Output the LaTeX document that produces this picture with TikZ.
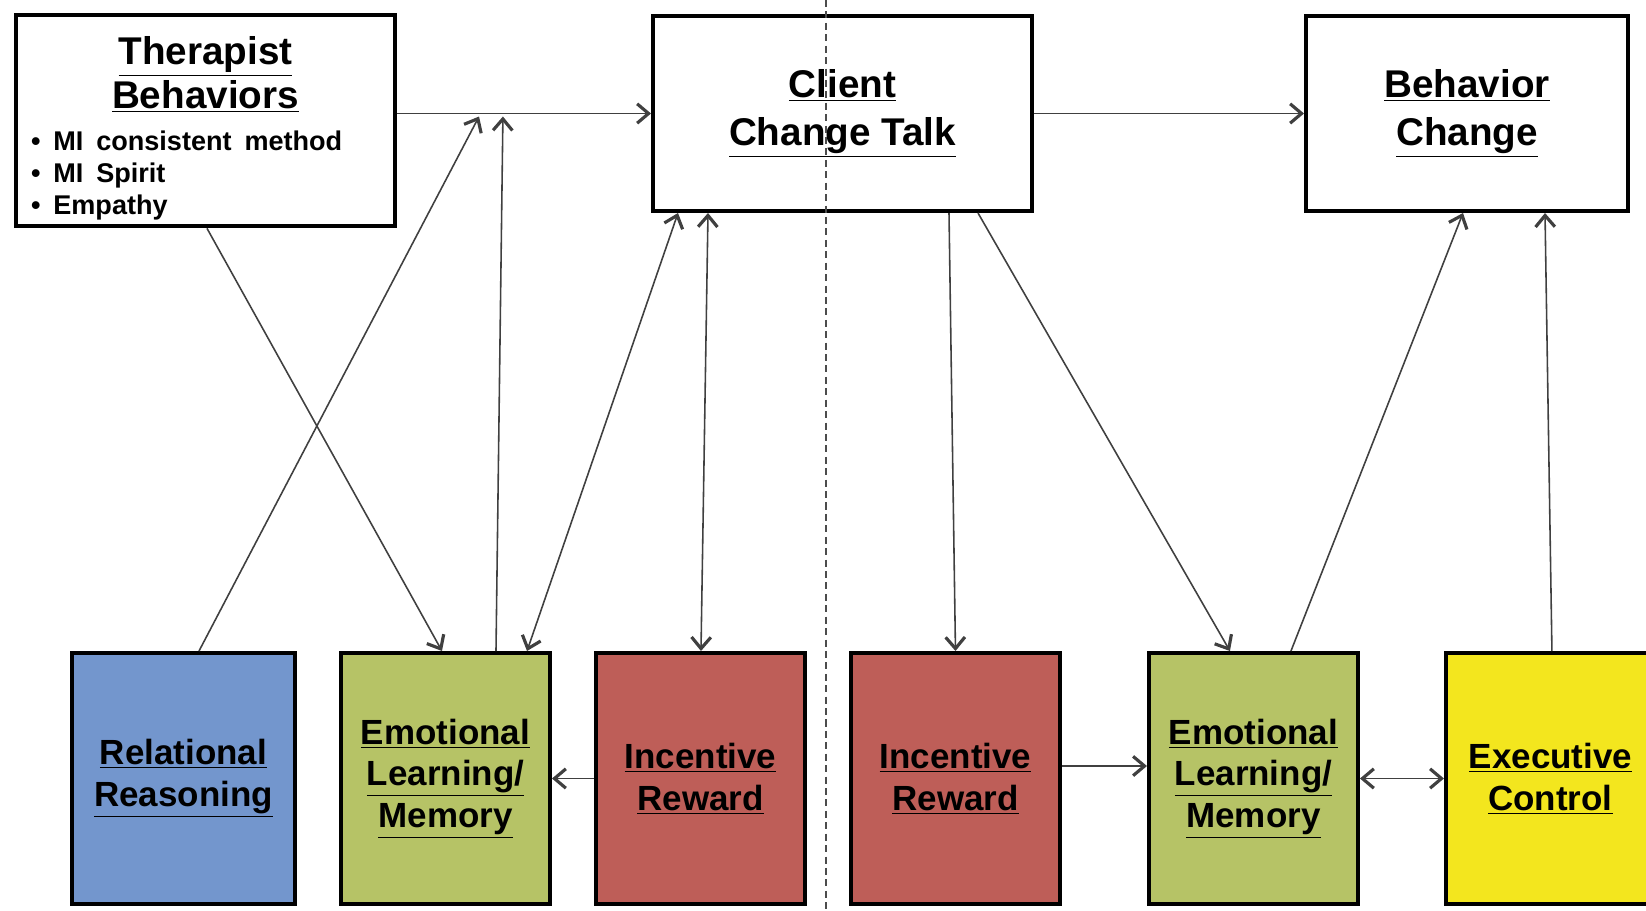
\documentclass[tikz,border=0pt]{standalone}
\usepackage{fontspec}
\setmainfont{Liberation Sans}
\usepackage{xcolor}
\definecolor{colorRelational}{RGB}{115,150,205}
\definecolor{colorEmotional}{RGB}{182,195,102}
\definecolor{colorIncentive}{RGB}{190,94,88}
\definecolor{colorExecutive}{RGB}{243,230,30}
\colorlet{colorLink}{black!75}
\usepackage{tikz}
\usetikzlibrary{arrows.meta, calc, positioning}
\newcommand{\undl}[1]{\underline{#1}}
\newcommand{\titlefont}{\fontsize{22pt}{25pt}\selectfont\bfseries}
\newcommand{\listfont}{\fontsize{15.4pt}{18.2pt}\selectfont\bfseries}
\tikzset{
  topbox/.style={draw, line width=2.3pt, fill=white, minimum height=3.9cm, font=\fontsize{22pt}{27pt}\selectfont\bfseries},
  lowbox/.style={draw, line width=2.3pt, minimum width=4.18cm, minimum height=5.02cm, align=center, font=\fontsize{19.9pt}{23.7pt}\selectfont\bfseries},
  link/.style={colorLink, line width=0.9pt},
  divider/.style={black!70, line width=0.8pt, dash pattern=on 4pt off 2.5pt}
}

\begin{document}
\begin{tikzpicture}[x=0.02cm, y=-0.02cm, >={Straight Barb[length=6.5pt,width=11pt,line width=1.8pt]}, node distance=0.84cm]
\clip (0,0) rectangle (1646,910);
\node[topbox, minimum height=4.18cm, text width=6.98cm, inner xsep=0.3cm] (ther) at (205.5,120.5) {{\centering\titlefont\rule{0pt}{25pt}\undl{Therapist}\\\undl{Behaviors}\par}\vspace{6pt}{\raggedright\listfont\textbullet\ MI consistent method\\\textbullet\ MI Spirit\\\textbullet\ Empathy\par}};
\node[topbox, minimum width=7.58cm, align=center] (client) at (842.5,113.5) {\undl{Client}\\\undl{Change Talk}};
\node[topbox, minimum width=6.44cm, align=center] (beh) at (1467,113.5) {\undl{Behavior}\\\undl{Change}};
\node[lowbox, fill=colorRelational, minimum width=4.46cm] (rel) at (183.5,778.5) {\undl{Relational}\\\undl{Reasoning}};
\node[lowbox, fill=colorEmotional, right=of rel] (emoA) {\undl{Emotional}\\\undl{Learning/}\\\undl{Memory}};
\node[lowbox, fill=colorIncentive, right=of emoA] (incA) {\undl{Incentive}\\\undl{Reward}};
\node[lowbox, fill=colorIncentive, right=of incA] (incB) {\undl{Incentive}\\\undl{Reward}};
\node[lowbox, fill=colorEmotional, right=1.7cm of incB] (emoB) {\undl{Emotional}\\\undl{Learning/}\\\undl{Memory}};
\node[lowbox, fill=colorExecutive, right=1.68cm of emoB] (exe) {\undl{Executive}\\\undl{Control}};
\draw[link, ->] (ther.east |- client.west) -- coordinate[pos=0.323] (modA) coordinate[pos=0.417] (modB) (client.west);
\draw[link, ->] (client.east) -- (beh.west);
\draw[link, ->] ($(ther.south)+(1.5,0)$) -- ($(emoA.north)+(-3.5,0)$);
\draw[link, ->] ($(rel.north)+(15.5,0)$) -- ($(modA)+(0,3)$);
\draw[link, ->] ($(emoA.north)+(50.5,0)$) -- ($(modB)+(0,3)$);
\draw[link, <->] ($(emoA.north)+(81.5,0)$) -- ($(client.south)+(-164.5,0)$);
\draw[link, <->] ($(incA.north)+(0.5,0)$) -- ($(client.south)+(-134.5,0)$);
\draw[link, ->] ($(client.south)+(106.5,0)$) -- (incB.north);
\draw[link, ->] ($(client.south)+(135.5,0)$) -- ($(emoB.north)+(-23.5,0)$);
\draw[link, ->] ($(emoB.north)+(37.5,0)$) -- ($(beh.south)+(-4,0)$);
\draw[link, ->] ($(exe.north)+(1.5,0)$) -- ($(beh.south)+(78,0)$);
\draw[link, ->] (incA.west) -- (emoA.east);
\draw[link, ->] ($(incB.east)+(0,-12.5)$) -- ($(emoB.west)+(0,-12.5)$);
\draw[link, <->] (emoB.east) -- (exe.west);
\draw[divider] (826,0) -- (826,910);
\end{tikzpicture}
\end{document}
